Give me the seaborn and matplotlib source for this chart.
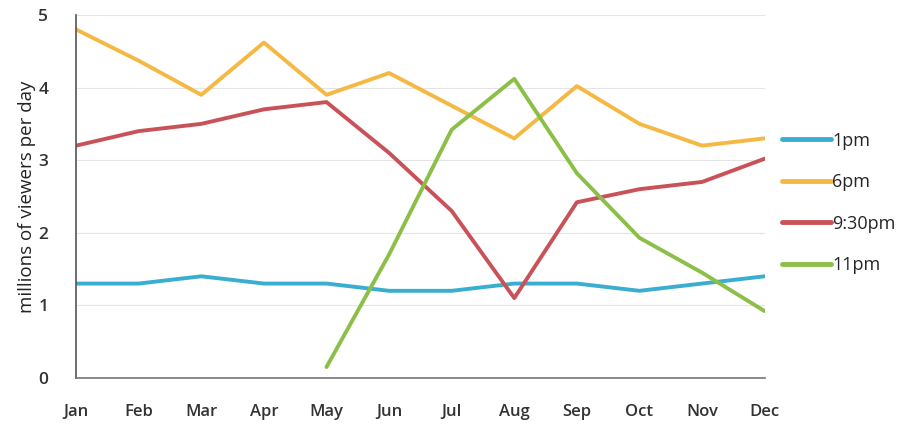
import pandas as pd
import numpy as np
import matplotlib
matplotlib.use("Agg")
import matplotlib.pyplot as plt
from matplotlib.lines import Line2D
import seaborn as sns

# Data (millions of viewers per day)
months = ["Jan", "Feb", "Mar", "Apr", "May", "Jun", "Jul", "Aug", "Sep", "Oct", "Nov", "Dec"]
pm1 = [1.3, 1.3, 1.4, 1.3, 1.3, 1.2, 1.2, 1.3, 1.3, 1.2, 1.3, 1.4]
pm6 = [4.8, 4.37, 3.9, 4.62, 3.9, 4.2, 3.75, 3.3, 4.02, 3.5, 3.2, 3.3]
pm930 = [3.2, 3.4, 3.5, 3.7, 3.8, 3.1, 2.3, 1.1, 2.42, 2.6, 2.7, 3.02]
pm11 = [np.nan, np.nan, np.nan, np.nan, 0.15, 1.7, 3.42, 4.12, 2.82, 1.93, 1.45, 0.92]
y_ticks = [0, 1, 2, 3, 4, 5]

series = {"1pm": pm1, "6pm": pm6, "9:30pm": pm930, "11pm": pm11}
colors = {"1pm": "#3aaed0", "6pm": "#f5b843", "9:30pm": "#c95259", "11pm": "#8cbf48"}

rows = []
for name, vals in series.items():
    for i, v in enumerate(vals):
        rows.append({"month": i, "series": name, "value": v})
df = pd.DataFrame(rows)

sns.set_style("white")
plt.rcParams["font.family"] = ["Open Sans", "DejaVu Sans"]

fig = plt.figure(figsize=(9.06, 4.28), dpi=100)
ax = fig.add_axes([0.084, 0.117, 0.76, 0.848])

sns.lineplot(data=df, x="month", y="value", hue="series", palette=colors,
             linewidth=2.8, ax=ax, legend=False)

ax.set_xlim(0, len(months) - 1)
ax.set_ylim(0, 5)
ax.set_yticks(y_ticks)
ax.set_xticks(range(len(months)))
ax.set_xticklabels(months)
ax.yaxis.grid(True, color="#e4e4e4", linewidth=0.8)
ax.set_axisbelow(True)

for s in ["top", "right"]:
    ax.spines[s].set_visible(False)
ax.spines["left"].set_color("#555555")
ax.spines["bottom"].set_color("#777777")
ax.spines["left"].set_linewidth(1.2)
ax.spines["bottom"].set_linewidth(1.2)

ax.tick_params(axis="x", direction="out", length=5, color="#777777", pad=14,
               labelsize=12, labelcolor="#333333")
ax.tick_params(axis="y", length=0, pad=20, labelsize=12.5, labelcolor="#333333")
for lbl in ax.get_xticklabels() + ax.get_yticklabels():
    lbl.set_fontweight("semibold")

ax.set_xlabel("")
ax.set_ylabel("millions of viewers per day", fontsize=13.5, color="#222222", labelpad=2)

handles = [Line2D([0], [0], color=colors[k], linewidth=3.5) for k in series]
fig.legend(handles, list(series.keys()), loc="upper left", bbox_to_anchor=(0.845, 0.73),
           frameon=False, fontsize=13, handlelength=2.7, handletextpad=0.1,
           labelspacing=1.3)

fig.savefig("out.png", dpi=100)
